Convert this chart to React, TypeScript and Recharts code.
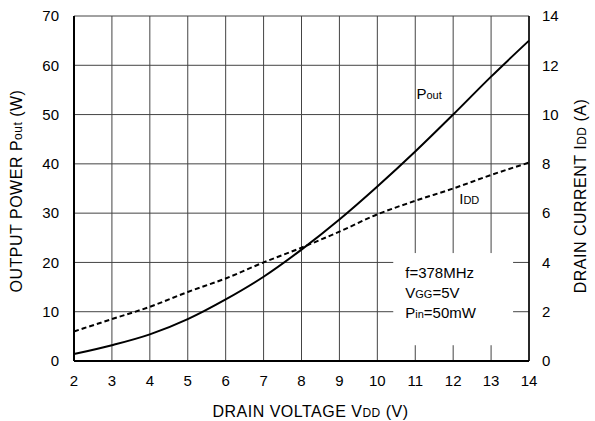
import {
  LineChart,
  Line,
  XAxis,
  YAxis,
  CartesianGrid,
  ReferenceArea,
  ReferenceDot,
} from 'recharts';

// Pout / IDD vs drain voltage.
const vddV = [2, 3, 4, 5, 6, 7, 8, 9, 10, 11, 12, 13, 14];
const poutW = [1.4, 3.2, 5.4, 8.5, 12.5, 17.1, 22.6, 28.7, 35.4, 42.5, 50.0, 57.7, 65.0];
const iddA = [1.2, 1.7, 2.2, 2.8, 3.35, 4.0, 4.6, 5.25, 5.95, 6.5, 7.0, 7.55, 8.05];

const xTicks = [2, 3, 4, 5, 6, 7, 8, 9, 10, 11, 12, 13, 14];
const leftTicks = [0, 10, 20, 30, 40, 50, 60, 70];
const rightTicks = [0, 2, 4, 6, 8, 10, 12, 14];

const FONT = '"Liberation Sans", Arial, sans-serif';
const FS = 15;
const TITLE = 16;
const SUB = 11;
const TITLE_SUB = 12;

const data = vddV.map((v, i) => ({ vdd: v, pout: poutW[i], idd: iddA[i] }));

function ConditionsBox(props: any) {
  const { x, y, width, height } = props;
  const tx = x + 12;
  return (
    <g fontFamily={FONT} fontSize={FS} fill="#000">
      <rect x={x} y={y} width={width} height={height} fill="#fff" />
      <text x={tx} y={y + 25}>f=378MHz</text>
      <text x={tx} y={y + 45}>
        V<tspan fontSize={SUB}>GG</tspan>=5V
      </text>
      <text x={tx} y={y + 65}>
        P<tspan fontSize={SUB}>in</tspan>=50mW
      </text>
    </g>
  );
}

export default function App() {
  return (
    <div style={{ position: 'absolute', left: 0, top: 0, width: 595, height: 421, background: '#fff' }}>
      <LineChart
        width={595}
        height={421}
        data={data}
        margin={{ top: 16, right: 0, bottom: 0, left: 0 }}
        style={{ fontFamily: FONT }}
      >
        <CartesianGrid yAxisId="left" stroke="#444" strokeWidth={1} />
        <XAxis
          type="number"
          dataKey="vdd"
          domain={[2, 14]}
          ticks={xTicks}
          height={60}
          tickSize={0}
          tickMargin={14}
          tick={{ fontSize: FS, fill: '#000', fontFamily: FONT }}
          axisLine={{ stroke: '#000', strokeWidth: 2 }}
          label={(p: any) => {
            const vb = p.viewBox;
            return (
              <text
                x={vb.x + vb.width / 2 + 9}
                y={vb.y + 56}
                textAnchor="middle"
                fontSize={TITLE}
                letterSpacing={0.5}
                fontFamily={FONT}
                fill="#000"
              >
                DRAIN VOLTAGE  V<tspan fontSize={TITLE_SUB}>DD</tspan> (V)
              </text>
            );
          }}
        />
        <YAxis
          yAxisId="left"
          domain={[0, 70]}
          ticks={leftTicks}
          width={74}
          tickSize={0}
          tickMargin={15}
          tick={{ fontSize: FS, fill: '#000', fontFamily: FONT }}
          axisLine={{ stroke: '#000', strokeWidth: 2 }}
          label={() => (
            <text
              x={0}
              y={0}
              transform="translate(22 191) rotate(-90)"
              textAnchor="middle"
              fontSize={TITLE}
              letterSpacing={0.5}
              fontFamily={FONT}
              fill="#000"
            >
              OUTPUT  POWER P<tspan fontSize={TITLE_SUB}>out</tspan> (W)
            </text>
          )}
        />
        <YAxis
          yAxisId="right"
          orientation="right"
          domain={[0, 14]}
          ticks={rightTicks}
          width={66}
          tickSize={0}
          tickMargin={13}
          tick={{ fontSize: FS, fill: '#000', fontFamily: FONT, textAnchor: 'start' }}
          axisLine={{ stroke: '#000', strokeWidth: 1.5 }}
          label={() => (
            <text
              x={0}
              y={0}
              transform="translate(586 196) rotate(-90)"
              textAnchor="middle"
              fontSize={TITLE}
              letterSpacing={0.5}
              fontFamily={FONT}
              fill="#000"
            >
              DRAIN  CURRENT  I<tspan fontSize={TITLE_SUB}>DD</tspan> (A)
            </text>
          )}
        />
        <ReferenceArea
          yAxisId="left"
          x1={10.42}
          x2={13.58}
          y1={3.2}
          y2={21.9}
          shape={ConditionsBox}
        />
        <Line
          yAxisId="left"
          type="monotone"
          dataKey="pout"
          stroke="#000"
          strokeWidth={2}
          dot={false}
          isAnimationActive={false}
        />
        <Line
          yAxisId="right"
          type="monotone"
          dataKey="idd"
          stroke="#000"
          strokeWidth={2}
          strokeDasharray="5 3"
          dot={false}
          isAnimationActive={false}
        />
        <ReferenceDot
          yAxisId="left"
          x={11.03}
          y={53.1}
          shape={(p: any) => (
            <text x={p.cx} y={p.cy} fontSize={FS} fontFamily={FONT} fill="#000">
              P<tspan fontSize={SUB}>out</tspan>
            </text>
          )}
        />
        <ReferenceDot
          yAxisId="left"
          x={12.16}
          y={31.8}
          shape={(p: any) => (
            <text x={p.cx} y={p.cy} fontSize={FS} fontFamily={FONT} fill="#000">
              I<tspan fontSize={SUB}>DD</tspan>
            </text>
          )}
        />
      </LineChart>
    </div>
  );
}
